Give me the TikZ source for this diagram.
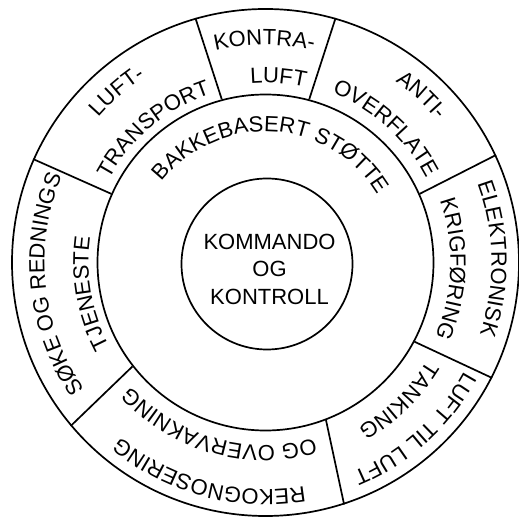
\documentclass[tikz,border=0pt]{standalone}
\usepackage{fontspec}
\setmainfont{Liberation Sans}
\usetikzlibrary{decorations.text}
\newcommand\lbl{\fontsize{22}{26}\selectfont}
\newcommand\ringtext[3]{\path[decorate,decoration={text along path,text align=center,text={|\lbl|#3}}] (C) ++({#1+80}:#2pt) arc[start angle={#1+80},end angle={#1-80},radius=#2pt];}
\tikzset{
  ring/.style={draw, circle, inner sep=0pt, line width=1.7pt},
  sep/.style={line width=1.7pt},
}
\begin{document}
\begin{tikzpicture}[x=1pt,y=1pt]
\useasboundingbox (0,0) rectangle (519,522);
\coordinate (C) at (265.5,259.5);
\node[ring, minimum size=507pt] (outer) at (C) {};
\node[ring, minimum size=336pt] (mid) at (C) {};
\node[ring, minimum size=171pt] (inner) at (267,258) {};
% dividers
\draw[sep] (mid.105) -- (outer.106);
\draw[sep] (mid.75) -- (outer.74);
\draw[sep] (mid.24) -- (outer.25);
\draw[sep] (mid.332) -- (outer.333);
\draw[sep] (mid.291) -- (outer.288);
\draw[sep] (mid.218) -- (outer.220);
\draw[sep] (mid.156) -- (outer.156);
% centre
\node[align=center, font=\fontsize{22}{27.5}\selectfont] (cc) at (269.5,253) {KOMMANDO\\OG\\KONTROLL};
% middle ring
\ringtext{86.5}{131}{BAKKEBASERT STØTTE}
% outer ring
\ringtext{90.3}{217.5}{KONTRA-}
\ringtext{86}{179.5}{LUFT}
\ringtext{131}{221}{LUFT-}
\ringtext{130}{177}{TRANSPORT}
\ringtext{186}{221}{SØKE OG REDNINGS}
\ringtext{190}{177}{TJENESTE}
\ringtext{255}{227}{REKOGNOSERING}
\ringtext{254}{183}{OG OVERVAKNING}
\ringtext{-48}{227}{LUFT TIL LUFT}
\ringtext{-46}{189}{TANKING}
\ringtext{1}{226}{ELEKTRONISK}
\ringtext{-2}{185}{KRIGFØRING}
\ringtext{47}{223}{ANTI-}
\ringtext{48}{182}{OVERFLATE}
\end{tikzpicture}
\end{document}
